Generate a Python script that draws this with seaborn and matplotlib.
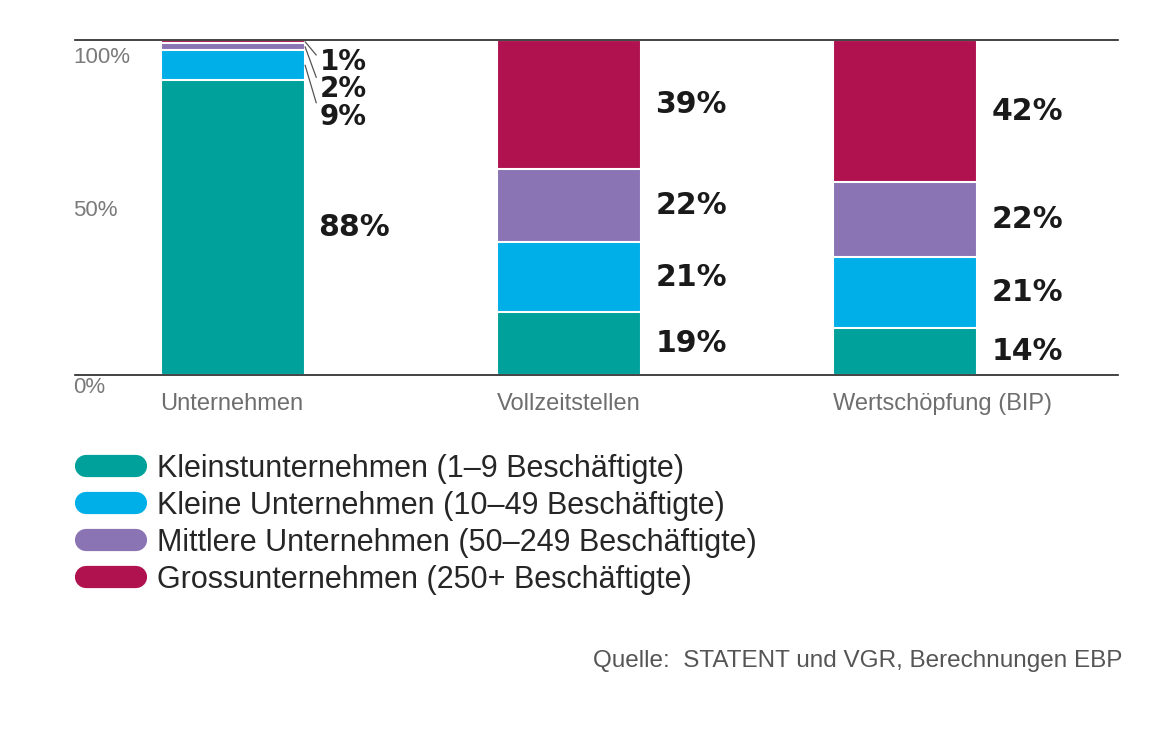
import numpy as np
import pandas as pd
import seaborn as sns
import matplotlib.pyplot as plt
from matplotlib.lines import Line2D

categories = ["Unternehmen", "Vollzeitstellen", "Wertschöpfung (BIP)"]
groups = ["Kleinstunternehmen (1–9 Beschäftigte)",
          "Kleine Unternehmen (10–49 Beschäftigte)",
          "Mittlere Unternehmen (50–249 Beschäftigte)",
          "Grossunternehmen (250+ Beschäftigte)"]
klein_st = [88, 19, 14]
klein = [9, 21, 21]
mittel = [2, 22, 22]
gross = [1, 39, 42]
colors = ["#00a19a", "#00aee8", "#8a74b4", "#b0124f"]

sns.set_theme(style="white")
plt.rcParams["font.family"] = ["Liberation Sans", "DejaVu Sans"]

df = pd.DataFrame({"kat": categories, "g0": klein_st, "g1": klein,
                   "g2": mittel, "g3": gross})
cols = ["g0", "g1", "g2", "g3"]
# rounded shares don't always add to 100, so scale each bar to the full height
share = df[cols].div(df[cols].sum(axis=1), axis=0) * 100
cum = share.cumsum(axis=1)
bottoms = cum - share

fig = plt.figure(figsize=(11.52, 7.37), dpi=100)
ax = fig.add_axes([0.065, 0.4912, 0.9055, 0.4545])
w = 0.43

# draw tallest first so lower segments sit on top
for i in reversed(range(4)):
    sns.barplot(x=df["kat"], y=cum[cols[i]], order=categories, color=colors[i],
                width=w, edgecolor="white", linewidth=1.5, saturation=1, ax=ax)

ax.set_xlim(-0.47, 2.634)
ax.set_ylim(0, 100)
ax.set_xlabel("")
ax.set_ylabel("")
ax.set_yticks([])
for s in ["left", "right"]:
    ax.spines[s].set_visible(False)
for s in ["top", "bottom"]:
    ax.spines[s].set_color("#222222")
    ax.spines[s].set_linewidth(1.2)
ax.spines["top"].set_zorder(5)

ax.set_xticks([i - w / 2 for i in range(3)])
ax.set_xticklabels(categories, ha="left", fontsize=17, color="#6e6e6e")
ax.tick_params(axis="x", length=0, pad=13)
for t in ax.get_xticklabels():
    t.set_x(t.get_position()[0])

# y labels sit a bit below their gridline
for val, lab, off in [(100, "100%", -17), (50, "50%", -3), (0, "0%", -13)]:
    ax.annotate(lab, xy=(0, val), xycoords=("axes fraction", "data"),
                xytext=(-2, off), textcoords="offset pixels", ha="left",
                va="center", fontsize=16, color="#7a7a7a")

lab_kw = dict(fontsize=21.5, fontweight="bold", color="#1a1a1a",
              family="DejaVu Sans", va="center", ha="left")

# labels next to the segments
for i in (1, 2):
    for c in cols:
        mid = bottoms.loc[i, c] + share.loc[i, c] / 2
        ax.annotate(f"{df.loc[i, c]}%", xy=(i + w / 2, mid), xytext=(14, 0),
                    textcoords="offset pixels", **lab_kw)

ax.annotate(f"{df.loc[0, 'g0']}%", xy=(w / 2, share.loc[0, "g0"] / 2),
            xytext=(13, 0), textcoords="offset pixels", **lab_kw)

# small segments of Unternehmen with leader lines
for k, c in enumerate(["g3", "g2", "g1"]):
    mid = bottoms.loc[0, c] + share.loc[0, c] / 2
    ax.annotate(f"{df.loc[0, c]}%", xy=(w / 2, mid),
                xytext=(w / 2, 93.5 - k * 8.2), textcoords="data",
                arrowprops=dict(arrowstyle="-", color="#555555", lw=0.9,
                                shrinkA=0, shrinkB=0, relpos=(0, 0.6)),
                **{**lab_kw, "fontsize": 20})
# shift the small labels right of the leader line
for t in ax.texts[-3:]:
    t.set_position((w / 2 + 0.043, t.get_position()[1]))

handles = [Line2D([0], [0], color=colors[i], lw=16, solid_capstyle="round")
           for i in range(4)]
fig.legend(handles, groups, loc="upper left", bbox_to_anchor=(0.0745, 0.384),
           frameon=False, fontsize=22, handlelength=1.64, handletextpad=0.69,
           labelspacing=0.23, borderpad=0, borderaxespad=0)

fig.text(0.974, 0.103, "Quelle:  STATENT und VGR, Berechnungen EBP",
         ha="right", va="center", fontsize=17.5, color="#555555")

fig.savefig("out.png", dpi=100, facecolor="white")
